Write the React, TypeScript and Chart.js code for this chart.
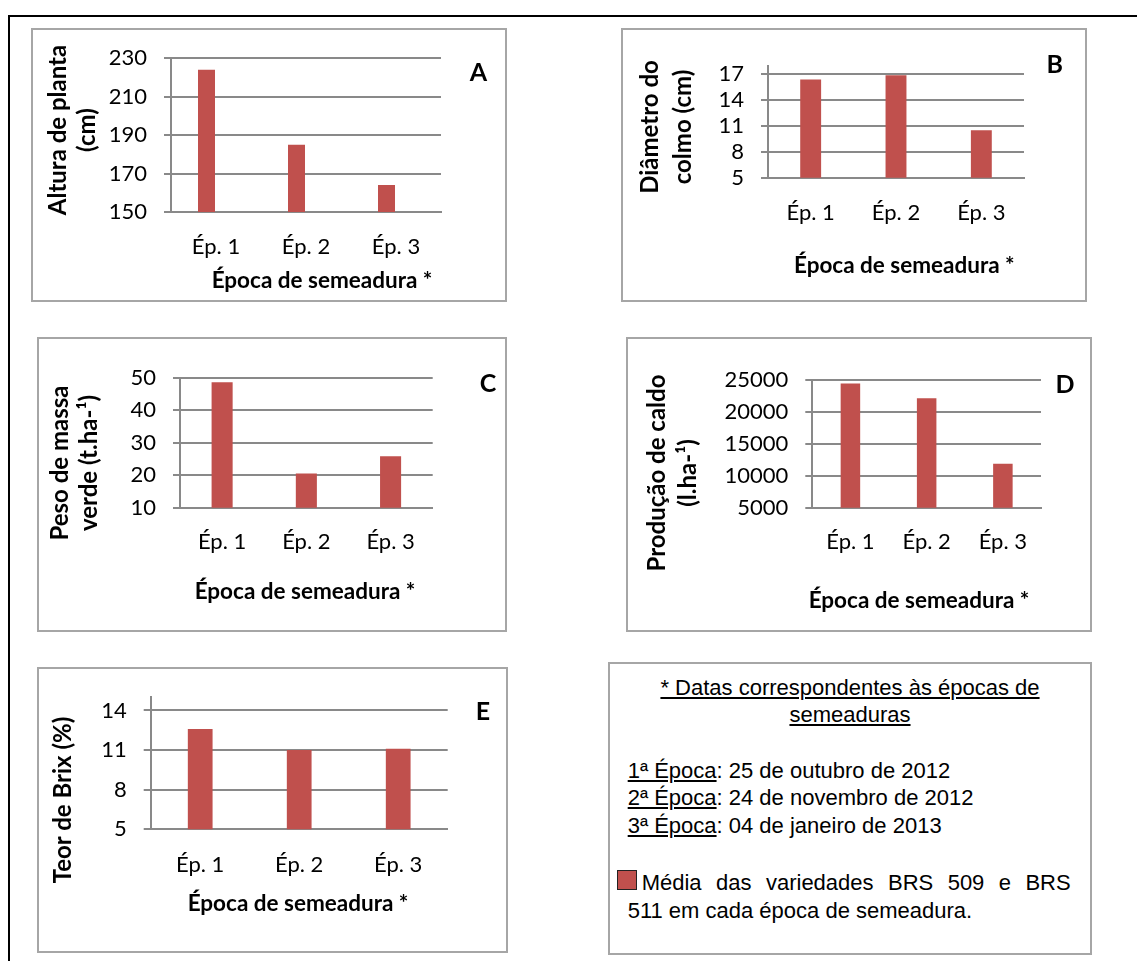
import React, { useEffect, useRef } from "react";
import { Chart, registerables } from "chart.js";

Chart.register(...registerables);

// ---------- data ----------
const categories = ["Ép. 1", "Ép. 2", "Ép. 3"];

const alturaValues = [224, 185, 164];
// the original chart has a second, empty series that pushes the bars left
const alturaEmptySeries: (number | null)[] = [null, null, null];
const alturaTicks = [150, 170, 190, 210, 230];

const diametroValues = [16.4, 16.9, 10.5];
const diametroTicks = [5, 8, 11, 14, 17];

const massaValues = [48.6, 20.5, 25.8];
const massaTicks = [10, 20, 30, 40, 50];

const caldoValues = [24500, 22200, 11900];
const caldoTicks = [5000, 10000, 15000, 20000, 25000];

const brixValues = [12.6, 11.0, 11.1];
const brixTicks = [5, 8, 11, 14];

// ---------- styles ----------
const BAR = "#C0504D";
const GRID = "#898989";
const BOX = "#A6A6A6";
const FONT = "Lato, 'Open Sans', sans-serif";
const ARIAL = "'Liberation Sans', Arial, sans-serif";

type Rect = { l: number; t: number; r: number; b: number };

interface PanelProps {
  box: Rect;
  plot: Rect;
  values: number[];
  extra?: (number | null)[];
  ticks: number[];
  yMin: number;
  yMax: number;
  barPct: number;
  catPct: number;
  xPad: number;
}

function BarPanel(p: PanelProps) {
  const ref = useRef<HTMLCanvasElement>(null);
  const w = p.box.r - p.box.l;
  const h = p.box.b - p.box.t;
  useEffect(() => {
    const ds = (data: (number | null)[]) => ({
      data,
      backgroundColor: BAR,
      borderWidth: 0,
      barPercentage: p.barPct,
      categoryPercentage: p.catPct,
    });
    const datasets: any[] = [ds(p.values)];
    if (p.extra) datasets.push(ds(p.extra));
    const chart = new Chart(ref.current as HTMLCanvasElement, {
      type: "bar",
      data: { labels: categories, datasets },
      options: {
        responsive: false,
        animation: false,
        events: [],
        layout: {
          padding: {
            left: 0,
            top: p.plot.t - p.box.t,
            right: p.box.r - p.plot.r,
            bottom: 0,
          },
        },
        plugins: {
          legend: { display: false },
          tooltip: { enabled: false },
          title: { display: false },
        },
        scales: {
          x: {
            grid: { display: false, drawTicks: false },
            border: { display: true, color: GRID, width: 2 },
            ticks: {
              color: "#000",
              font: { family: FONT, size: 22 },
              padding: p.xPad,
              maxRotation: 0,
              minRotation: 0,
              autoSkip: false,
            },
            afterFit: (s: any) => {
              s.height = p.box.b - p.plot.b;
            },
          },
          y: {
            min: p.yMin,
            max: p.yMax,
            grid: { color: GRID, lineWidth: 2, tickLength: 7, drawTicks: true },
            border: { display: true, color: GRID, width: 2 },
            ticks: {
              color: "#000",
              font: { family: FONT, size: 22 },
              padding: 17,
              autoSkip: false,
              callback: (v: any) => String(v),
            },
            afterBuildTicks: (s: any) => {
              s.ticks = p.ticks.map((v) => ({ value: v }));
            },
            afterFit: (s: any) => {
              s.width = p.plot.l - p.box.l;
            },
          },
        },
      } as any,
    });
    return () => chart.destroy();
  }, []);
  return (
    <>
      <canvas
        ref={ref}
        width={w}
        height={h}
        style={{ position: "absolute", left: p.box.l, top: p.box.t, width: w, height: h }}
      />
      <div
        style={{
          position: "absolute",
          left: p.box.l,
          top: p.box.t,
          width: w,
          height: h,
          border: `2px solid ${BOX}`,
          boxSizing: "border-box",
          pointerEvents: "none",
        }}
      />
    </>
  );
}

const titleFont: React.CSSProperties = {
  fontFamily: FONT,
  fontWeight: 700,
  fontSize: 22,
  color: "#000",
  whiteSpace: "nowrap",
};

function XTitle({ x, y, text }: { x: number; y: number; text: string }) {
  return (
    <div
      style={{
        ...titleFont,
        fontSize: 22.5,
        position: "absolute",
        left: x,
        top: y,
        lineHeight: "26px",
        transform: "translate(-50%, -50%)",
      }}
    >
      {text}
    </div>
  );
}

function YTitle({ x, y, lines, lh }: { x: number; y: number; lines: string[]; lh: number }) {
  return (
    <div
      style={{
        ...titleFont,
        fontSize: 24,
        position: "absolute",
        left: x,
        top: y,
        lineHeight: `${lh}px`,
        textAlign: "center",
        transform: "translate(-50%, -50%) rotate(-90deg)",
      }}
    >
      {lines.map((l, i) => (
        <div key={i}>{l}</div>
      ))}
    </div>
  );
}

function Letter({ x, y, text }: { x: number; y: number; text: string }) {
  return (
    <div
      style={{
        ...titleFont,
        fontSize: 25,
        position: "absolute",
        left: x,
        top: y,
        lineHeight: "25px",
        transform: "translate(-50%, -50%)",
      }}
    >
      {text}
    </div>
  );
}

const legendText: React.CSSProperties = {
  position: "absolute",
  fontFamily: ARIAL,
  fontSize: 22,
  lineHeight: "27px",
  color: "#000",
  whiteSpace: "nowrap",
};

export default function App() {
  return (
    <div
      style={{
        position: "absolute",
        left: 0,
        top: 0,
        width: 1137,
        height: 961,
        overflow: "hidden",
        background: "#fff",
      }}
    >
      {/* outer frame */}
      <div
        style={{
          position: "absolute",
          left: 8,
          top: 15,
          width: 1300,
          height: 1100,
          borderTop: "2px solid #000",
          borderLeft: "2px solid #000",
        }}
      />

      {/* A */}
      <BarPanel
        box={{ l: 31, t: 28, r: 507, b: 302 }}
        plot={{ l: 171, t: 57, r: 441, b: 212 }}
        values={alturaValues}
        extra={alturaEmptySeries}
        ticks={alturaTicks}
        yMin={150}
        yMax={230}
        barPct={0.895}
        catPct={0.422}
        xPad={21.5}
      />
      <YTitle x={70.5} y={130} lines={["Altura de planta", "(cm)"]} lh={29} />
      <XTitle x={322} y={280} text="Época de semeadura *" />
      <Letter x={478.5} y={70.5} text="A" />

      {/* B */}
      <BarPanel
        box={{ l: 621, t: 28, r: 1087, b: 302 }}
        plot={{ l: 768, t: 65.7, r: 1024, b: 177.7 }}
        values={diametroValues}
        ticks={diametroTicks}
        yMin={5}
        yMax={18}
        barPct={0.245}
        catPct={1}
        xPad={22.4}
      />
      <YTitle x={664.5} y={127} lines={["Diâmetro do", "colmo (cm)"]} lh={33} />
      <XTitle x={904.3} y={265} text="Época de semeadura *" />
      <Letter x={1054.7} y={62.8} text="B" />

      {/* C */}
      <BarPanel
        box={{ l: 37, t: 337, r: 507, b: 632 }}
        plot={{ l: 180, t: 377.7, r: 432.7, b: 507.7 }}
        values={massaValues}
        ticks={massaTicks}
        yMin={10}
        yMax={50}
        barPct={0.25}
        catPct={1}
        xPad={20.8}
      />
      <YTitle x={72.5} y={462.5} lines={["Peso de massa", "verde (t.ha-¹)"]} lh={29} />
      <XTitle x={305} y={590.7} text="Época de semeadura *" />
      <Letter x={488} y={381.7} text="C" />

      {/* D */}
      <BarPanel
        box={{ l: 626, t: 337, r: 1092, b: 632 }}
        plot={{ l: 812.3, t: 380.3, r: 1041, b: 507.7 }}
        values={caldoValues}
        ticks={caldoTicks}
        yMin={5000}
        yMax={25000}
        barPct={0.256}
        catPct={1}
        xPad={20.8}
      />
      <YTitle x={671} y={473} lines={["Produção de caldo", "(l.ha-¹)"]} lh={31} />
      <XTitle x={919} y={600} text="Época de semeadura *" />
      <Letter x={1065} y={382.5} text="D" />

      {/* E */}
      <BarPanel
        box={{ l: 37, t: 667, r: 508, b: 953 }}
        plot={{ l: 150.7, t: 696.7, r: 447.7, b: 829.3 }}
        values={brixValues}
        ticks={brixTicks}
        yMin={5}
        yMax={15}
        barPct={0.25}
        catPct={1}
        xPad={22.5}
      />
      <YTitle x={62} y={799.7} lines={["Teor de Brix (%)"]} lh={26} />
      <XTitle x={298} y={903.3} text="Época de semeadura *" />
      <Letter x={483} y={710} text="E" />

      {/* legend / notes box */}
      <div
        style={{
          position: "absolute",
          left: 608,
          top: 662,
          width: 484,
          height: 293,
          border: `2px solid ${BOX}`,
          boxSizing: "border-box",
        }}
      />
      <div style={{ ...legendText, left: 608, width: 484, top: 674, textAlign: "center", textDecoration: "underline" }}>
        * Datas correspondentes às épocas de
      </div>
      <div style={{ ...legendText, left: 608, width: 484, top: 700.6, textAlign: "center" }}>
        <span style={{ textDecoration: "underline" }}>semeaduras</span>
      </div>
      <div style={{ ...legendText, left: 627.7, top: 756.6 }}>
        <span style={{ textDecoration: "underline" }}>1ª Época</span>: 25 de outubro de 2012
      </div>
      <div style={{ ...legendText, left: 627.7, top: 783.9 }}>
        <span style={{ textDecoration: "underline" }}>2ª Época</span>: 24 de novembro de 2012
      </div>
      <div style={{ ...legendText, left: 627.7, top: 811.6 }}>
        <span style={{ textDecoration: "underline" }}>3ª Época</span>: 04 de janeiro de 2013
      </div>
      <div
        style={{
          position: "absolute",
          left: 616.7,
          top: 870,
          width: 20,
          height: 20,
          background: BAR,
          border: "1.5px solid #222",
          boxSizing: "border-box",
        }}
      />
      <div
        style={{
          ...legendText,
          left: 641.7,
          top: 868.9,
          width: 429,
          textAlign: "justify",
          textAlignLast: "justify",
          whiteSpace: "normal",
        }}
      >
        Média das variedades BRS 509 e BRS
      </div>
      <div style={{ ...legendText, left: 627.7, top: 896.6 }}>511 em cada época de semeadura.</div>
    </div>
  );
}
